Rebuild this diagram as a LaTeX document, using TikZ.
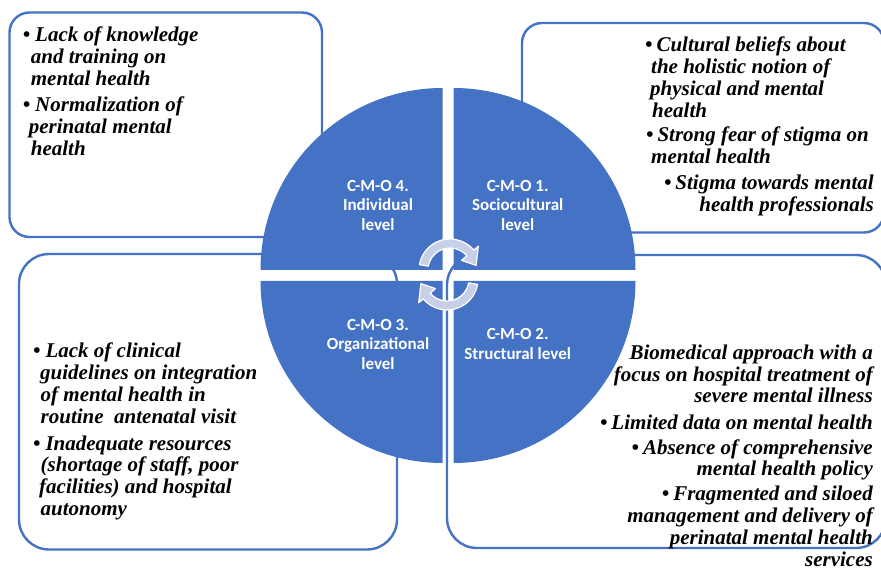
\documentclass[tikz,border=0pt]{standalone}
\usepackage{fontspec}
\setmainfont{Liberation Serif}
\newfontfamily\lblfont{Carlito}
\definecolor{oblue}{RGB}{68,114,196}
\definecolor{arrfill}{RGB}{200,207,232}
\begin{document}
\begin{tikzpicture}[x=1pt,y=-1pt,
  box/.style={draw=oblue, line width=2.4pt, rounded corners=#1, fill=white},
  quad/.style={fill=oblue, draw=none},
  cyc/.style={fill=arrfill, draw=white, line width=1.2pt, line join=round},
  txt/.style={inner sep=0pt, anchor=base west, text=black, font=\fontsize{21}{21.8}\selectfont\bfseries\itshape},
  txtr/.style={txt, anchor=base east},
  lbl/.style={inner sep=0pt, anchor=base, text=white, font=\lblfont\fontsize{17}{19.2}\selectfont\bfseries}]
\useasboundingbox (0,0) rectangle (881,569);
\clip (0,0) rectangle (881,569);

% text boxes
\draw[box=20pt] (9.5,12.5) rectangle (322,237);
\draw[box=20pt] (522,23) rectangle (884,232.5);
\draw[box=30pt] (19,254) rectangle (397,549.5);
\draw[box=30pt] (447,255) rectangle (886,548);

% quadrants
\fill[quad] (442.5,270) -- ++(180:182) arc[start angle=180,end angle=270,radius=182] -- cycle;
\fill[quad] (453.5,270) -- ++(270:182) arc[start angle=270,end angle=360,radius=182] -- cycle;
\fill[quad] (453.5,281) -- ++(0:182) arc[start angle=0,end angle=90,radius=182] -- cycle;
\fill[quad] (442.5,281) -- ++(90:182) arc[start angle=90,end angle=180,radius=182] -- cycle;

% cycle arrows
\begin{scope}[shift={(450,270)}]
\draw[cyc] (190:31) arc[start angle=190,end angle=320,radius=31] -- (320:37) -- (350:26.5) -- (320:15) -- (320:22) arc[start angle=320,end angle=190,radius=22] -- cycle;
\end{scope}
\begin{scope}[shift={(447,279)},rotate=180]
\draw[cyc] (190:31) arc[start angle=190,end angle=320,radius=31] -- (320:37) -- (350:26.5) -- (320:15) -- (320:22) arc[start angle=320,end angle=190,radius=22] -- cycle;
\end{scope}

% quadrant labels
\node[lbl] (q4) at (378,191.7) {\begin{tabular}[t]{@{}c@{}}C-M-O 4.\\Individual\\level\end{tabular}};
\node[lbl] (q1) at (517.7,191.7) {\begin{tabular}[t]{@{}c@{}}C-M-O 1.\\Sociocultural\\level\end{tabular}};
\node[lbl] (q3) at (378,330.7) {\begin{tabular}[t]{@{}c@{}}C-M-O 3.\\Organizational\\level\end{tabular}};
\node[lbl] (q2) at (517.7,340) {\begin{tabular}[t]{@{}c@{}}C-M-O 2.\\Structural level\end{tabular}};

% top-left box
\node[txt] (tl1) at (22.7,41.7) {\begin{tabular}[t]{@{}l@{}}\textbullet\hspace{5pt}Lack of knowledge\\\hspace{8pt}and training on\\\hspace{8pt}mental health\end{tabular}};
\node[txt] (tl2) at (22.7,111.7) {\begin{tabular}[t]{@{}l@{}}\textbullet\hspace{5pt}Normalization of\\\hspace{6pt}perinatal mental\\\hspace{8pt}health\end{tabular}};

% top-right box
\node[txt] (tr1) at (645,51.7) {\begin{tabular}[t]{@{}l@{}}\textbullet\hspace{4pt}Cultural beliefs about\\\hspace{6pt}the holistic notion of\\\hspace{5pt}physical and mental\\\hspace{7pt}health\end{tabular}};
\node[txt] (tr2) at (646,141.7) {\begin{tabular}[t]{@{}l@{}}\textbullet\hspace{4pt}Strong fear of stigma on\\\hspace{5pt}mental health\end{tabular}};
\node[txtr] (tr3) at (874,190) {\begin{tabular}[t]{@{}r@{}}\textbullet\hspace{4pt}Stigma towards mental\\health professionals\end{tabular}};

% bottom-left box
\node[txt] (bl1) at (33,358) {\begin{tabular}[t]{@{}l@{}}\textbullet\hspace{5pt}Lack of clinical\\\hspace{7pt}guidelines on integration\\\hspace{7.5pt}of mental health in\\\hspace{7.5pt}routine\ \ antenatal visit\end{tabular}};
\node[txt] (bl2) at (33,450) {\begin{tabular}[t]{@{}l@{}}\textbullet\hspace{5pt}Inadequate resources\\\hspace{7.5pt}(shortage of staff, poor\\\hspace{6pt}facilities) and hospital\\\hspace{7.5pt}autonomy\end{tabular}};

% bottom-right box
\node[txtr] (br1) at (873,359.3) {\begin{tabular}[t]{@{}r@{}}Biomedical approach with a\\focus on hospital treatment of\\severe mental illness\end{tabular}};
\node[txtr] (br2) at (873,429) {\textbullet\hspace{4pt}Limited data on mental health};
\node[txtr] (br3) at (873,454) {\begin{tabular}[t]{@{}r@{}}\textbullet\hspace{4pt}Absence of comprehensive\\mental health policy\end{tabular}};
\node[txtr] (br4) at (873,500.7) {\begin{tabular}[t]{@{}r@{}}\textbullet\hspace{4pt}Fragmented and siloed\\management and delivery of\\perinatal mental health\\services\end{tabular}};
\end{tikzpicture}
\end{document}
